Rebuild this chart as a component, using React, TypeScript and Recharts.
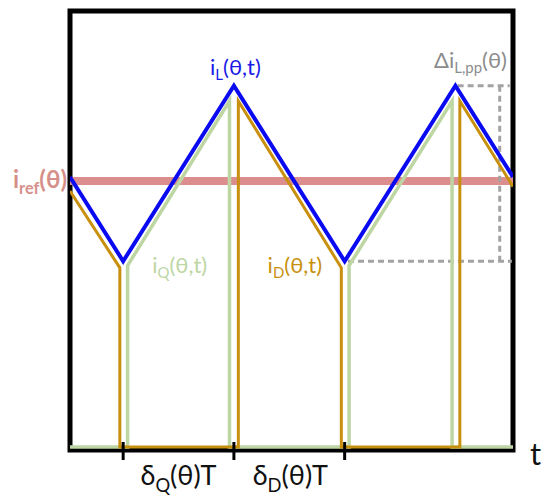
import { LineChart, Line, XAxis, YAxis, ReferenceArea, ReferenceDot } from "recharts";

// time axis: 0..4 (one switching period = 2), current axis: 0..10
const T_L = [0, 0.48, 1.48, 2.48, 3.48, 4];
const I_L = [6.22, 4.3, 8.3, 4.3, 8.3, 6.22];

const T_Q = [0, 0.52, 0.52, 1.44, 1.44, 2.52, 2.52, 3.45, 3.45, 4];
const I_Q = [0.07, 0.07, 4.2, 7.95, 0.07, 0.07, 4.2, 7.95, 0.07, 0.07];

const T_D = [0, 0.45, 0.45, 1.52, 1.52, 2.45, 2.45, 3.52, 3.52, 4];
const I_D = [5.9, 4.15, 0.07, 0.07, 7.95, 4.15, 0.07, 0.07, 7.95, 6.0];

const T_REF = [0, 4];
const I_REF = [6.13, 6.13];

// ripple box (null = gap)
const T_BOX = [3.5, 3.97, 3.97, 3.88, 3.88, 3.88, 2.51, 3.99];
const I_BOX = [8.3, 8.3, null, 8.3, 4.3, null, 4.3, 4.3];

const PERIOD_TICKS = [0.48, 1.48, 2.48];
const DUTY_LABELS = [
  { t: 0.98, sub: "Q" },
  { t: 1.99, sub: "D" },
];
const T_END = 4;

const FONT = "Lato, 'Noto Sans', sans-serif";

const zip = (ts: number[], vs: (number | null)[]) => ts.map((t, i) => ({ t, v: vs[i] }));

const lData = zip(T_L, I_L);
const qData = zip(T_Q, I_Q);
const dData = zip(T_D, I_D);
const refData = zip(T_REF, I_REF);
const boxData = zip(T_BOX, I_BOX);

type SubProps = {
  x: number;
  y: number;
  base: string;
  sub: string;
  rest: string;
  size: number;
  color: string;
  anchor?: "start" | "middle" | "end";
  weight?: string;
};

const SubText = ({ x, y, base, sub, rest, size, color, anchor = "middle", weight = "normal" }: SubProps) => {
  const shift = size * 0.25;
  return (
    <text x={x} y={y} fill={color} fontSize={size} fontFamily={FONT} textAnchor={anchor} fontWeight={weight}>
      {base}
      <tspan dy={shift} fontSize={size * 0.68}>
        {sub}
      </tspan>
      <tspan dy={-shift}>{rest}</tspan>
    </text>
  );
};

const XTick = (props: any) => {
  const { x, y, payload } = props;
  const v = payload.value;
  if (PERIOD_TICKS.includes(v)) {
    return <line x1={x} x2={x} y1={y - 8} y2={y + 10} stroke="#000" strokeWidth={3} />;
  }
  const lbl = DUTY_LABELS.find((d) => d.t === v);
  if (lbl) {
    return <SubText x={x} y={y + 35} base="δ" sub={lbl.sub} rest="(θ)T" size={27} color="#111" />;
  }
  if (v === T_END) {
    return (
      <text x={x + 17} y={y + 15} fontSize={31} fontFamily={FONT} fill="#111">
        t
      </text>
    );
  }
  return null;
};

const YTick = (props: any) => {
  const { x, y } = props;
  return <SubText x={x - 3} y={y + 7} base="i" sub="ref" rest="(θ)" size={24} color="#d6908a" anchor="end" weight="bold" />;
};

const textLabel = (base: string, sub: string, rest: string, color: string) => (p: any) => {
  const vb = p.viewBox || {};
  return <SubText x={vb.x} y={vb.y} base={base} sub={sub} rest={rest} size={22} color={color} />;
};

const App = () => {
  return (
    <LineChart width={540} height={490} margin={{ top: 3, right: 35, bottom: 0, left: 0 }}>
      <XAxis
        dataKey="t"
        type="number"
        domain={[0, 4]}
        allowDataOverflow
        ticks={[...PERIOD_TICKS, ...DUTY_LABELS.map((d) => d.t), T_END]}
        interval={0}
        axisLine={false}
        tickLine={false}
        tickSize={0}
        tickMargin={0}
        height={48}
        tick={<XTick />}
      />
      <YAxis
        type="number"
        domain={[0, 10]}
        allowDataOverflow
        ticks={[I_REF[0]]}
        axisLine={false}
        tickLine={false}
        tickSize={0}
        tickMargin={0}
        width={62}
        tick={<YTick />}
      />
      <ReferenceArea x1={0} x2={4} y1={0} y2={10} stroke="#000" strokeWidth={5} fill="none" fillOpacity={0} />
      <Line data={refData} dataKey="v" stroke="#dc8e8e" strokeWidth={8} dot={false} isAnimationActive={false} />
      <Line data={boxData} dataKey="v" stroke="#a3a3a3" strokeWidth={3} strokeDasharray="6 4" dot={false} isAnimationActive={false} />
      <Line data={qData} dataKey="v" stroke="#bdd6a3" strokeWidth={3.5} dot={false} isAnimationActive={false} />
      <Line data={dData} dataKey="v" stroke="#c8900e" strokeWidth={3} dot={false} isAnimationActive={false} />
      <Line data={lData} dataKey="v" stroke="#0a0af0" strokeWidth={4} dot={false} isAnimationActive={false} />
      <ReferenceDot x={1.494} y={8.55} r={0} stroke="none" fill="none" label={textLabel("i", "L", "(θ,t)", "#1a1ae6")} />
      <ReferenceDot x={0.99} y={4.04} r={0} stroke="none" fill="none" label={textLabel("i", "Q", "(θ,t)", "#bdd6a3")} />
      <ReferenceDot x={2.03} y={4.04} r={0} stroke="none" fill="none" label={textLabel("i", "D", "(θ,t)", "#c8900e")} />
      <ReferenceDot x={3.616} y={8.71} r={0} stroke="none" fill="none" label={textLabel("Δi", "L,pp", "(θ)", "#8c8c8c")} />
    </LineChart>
  );
};

export default App;
